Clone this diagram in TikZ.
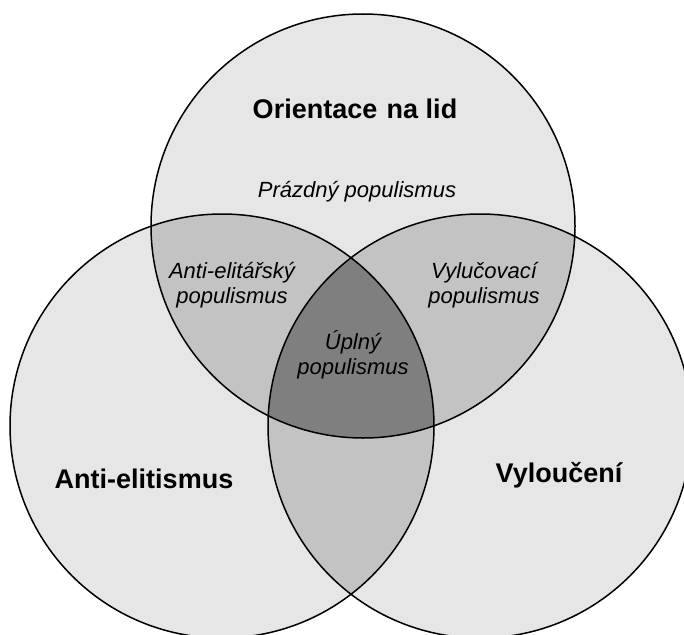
\documentclass[tikz,border=0pt]{standalone}
\usepackage{fontspec}
\setmainfont{Liberation Sans}
\definecolor{singlefill}{HTML}{E6E6E6}
\definecolor{doublefill}{HTML}{C3C3C3}
\definecolor{triplefill}{HTML}{7F7F7F}
\begin{document}
\begin{tikzpicture}[x=1pt,y=-1pt,
  outline/.style={draw=black, line width=1.5pt},
  biglabel/.style={font=\fontsize{27}{31}\selectfont\bfseries, inner sep=0pt},
  smalllabel/.style={font=\fontsize{22}{25}\selectfont\itshape, align=center, inner sep=0pt}]
\useasboundingbox (0,0) rectangle (684,634);
\def\rr{212pt}
\coordinate (T) at (363,226);
\coordinate (L) at (222,426);
\coordinate (R) at (480,426);
\begin{scope}
  \clip (0,0) rectangle (684,634);
  \fill[singlefill] (T) circle[radius=\rr];
  \fill[singlefill] (L) circle[radius=\rr];
  \fill[singlefill] (R) circle[radius=\rr];
  \begin{scope}
    \clip (T) circle[radius=\rr];
    \fill[doublefill] (L) circle[radius=\rr];
    \fill[doublefill] (R) circle[radius=\rr];
  \end{scope}
  \begin{scope}
    \clip (L) circle[radius=\rr];
    \fill[doublefill] (R) circle[radius=\rr];
  \end{scope}
  \begin{scope}
    \clip (T) circle[radius=\rr];
    \clip (L) circle[radius=\rr];
    \fill[triplefill] (R) circle[radius=\rr];
  \end{scope}
  \draw[outline] (T) circle[radius=\rr];
  \draw[outline] (L) circle[radius=\rr];
  \draw[outline] (R) circle[radius=\rr];
\end{scope}
\node[biglabel] (orient) at (355,109) {Orientace\hspace{0.35em}na lid};
\node[biglabel] (anti) at (144,479) {Anti-elitismus};
\node[biglabel] (vyl) at (559,475) {Vyloučení};
\node[smalllabel] (prazdny) at (357,192) {Prázdný populismus};
\node[smalllabel] (antipop) at (232,285) {Anti-elitářský\\populismus};
\node[smalllabel] (vylpop) at (484,285) {Vylučovací\\populismus};
\node[smalllabel] (uplny) at (353,355) {Úplný\\populismus};
\end{tikzpicture}
\end{document}
